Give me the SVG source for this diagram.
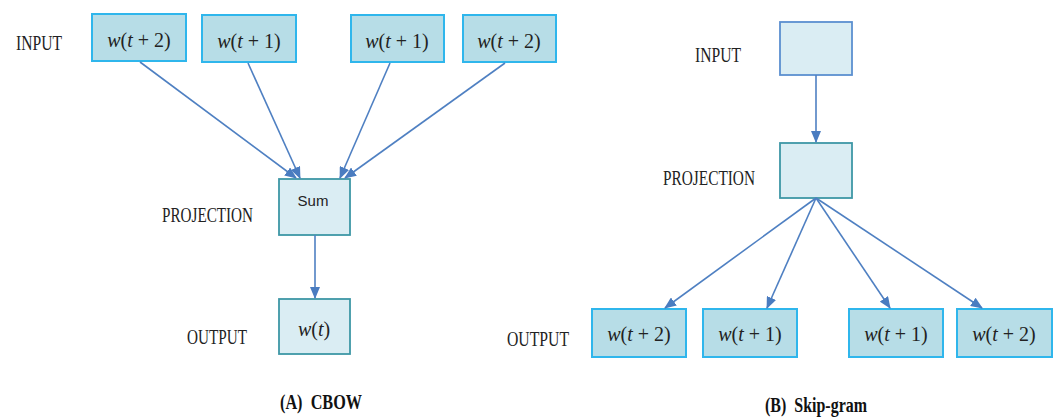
<svg xmlns="http://www.w3.org/2000/svg" width="1059" height="417" viewBox="0 0 1059 417">
  <style>
    .lbl { font-family: "Liberation Serif", "DejaVu Serif", serif; font-size: 22px; fill: #222; }
    .cap { font-family: "Liberation Serif", "DejaVu Serif", serif; font-size: 20px; font-weight: bold; fill: #111; }
    .math { font-family: "Liberation Serif", "DejaVu Serif", serif; font-size: 20px; fill: #222; }
    .it { font-style: italic; }
    .word { fill: #b7dde7; stroke: #2fb6ec; stroke-width: 2; }
    .hid { fill: #daedf3; stroke: #3e97a6; stroke-width: 1.8; }
    .hidb { fill: #daedf3; stroke: #5b8fd0; stroke-width: 1.8; }
    .sum { font-family: "Liberation Sans", Arial, sans-serif; font-size: 15px; fill: #222; }
    .edge { stroke: #4f80c2; stroke-width: 1.6; fill: none; marker-end: url(#arr); }
  </style>
  <defs>
    <marker id="arr" markerUnits="userSpaceOnUse" markerWidth="12" markerHeight="10" refX="11" refY="5" orient="auto">
      <path d="M0,0 L12,5 L0,10 Z" fill="#4a7cc0"/>
    </marker>
  </defs>

  <rect width="1059" height="417" fill="#ffffff"/>

  <!-- CBOW -->
  <text class="lbl" x="16" y="50" textLength="46" lengthAdjust="spacingAndGlyphs">INPUT</text>
  <text class="lbl" x="162" y="222" textLength="91" lengthAdjust="spacingAndGlyphs">PROJECTION</text>
  <text class="lbl" x="187" y="344" textLength="60" lengthAdjust="spacingAndGlyphs">OUTPUT</text>

  <g id="cbow-in1">
    <rect class="word" x="92" y="14" width="94" height="47"/>
    <text class="math" x="139" y="47" text-anchor="middle"><tspan class="it">w</tspan>(<tspan class="it">t</tspan> + 2)</text>
  </g>
  <g id="cbow-in2">
    <rect class="word" x="202" y="15" width="94" height="47"/>
    <text class="math" x="249" y="48" text-anchor="middle"><tspan class="it">w</tspan>(<tspan class="it">t</tspan> + 1)</text>
  </g>
  <g id="cbow-in3">
    <rect class="word" x="351" y="15" width="93" height="47"/>
    <text class="math" x="397" y="48" text-anchor="middle"><tspan class="it">w</tspan>(<tspan class="it">t</tspan> + 1)</text>
  </g>
  <g id="cbow-in4">
    <rect class="word" x="463" y="15" width="93" height="47"/>
    <text class="math" x="509" y="48" text-anchor="middle"><tspan class="it">w</tspan>(<tspan class="it">t</tspan> + 2)</text>
  </g>
  <g id="cbow-sum">
    <rect class="hid" x="279" y="179" width="71" height="56"/>
    <text class="sum" x="313" y="206" text-anchor="middle">Sum</text>
  </g>
  <g id="cbow-out">
    <rect class="hid" x="279" y="299" width="71" height="55"/>
    <text class="math" x="314" y="336" text-anchor="middle"><tspan class="it">w</tspan>(<tspan class="it">t</tspan>)</text>
  </g>

  <text class="cap" x="280" y="409" xml:space="preserve" textLength="82" lengthAdjust="spacingAndGlyphs">(A)  CBOW</text>

  <!-- Skip-gram -->
  <text class="lbl" x="695" y="62" textLength="46" lengthAdjust="spacingAndGlyphs">INPUT</text>
  <text class="lbl" x="663" y="185" textLength="92" lengthAdjust="spacingAndGlyphs">PROJECTION</text>
  <text class="lbl" x="507" y="346" textLength="62" lengthAdjust="spacingAndGlyphs">OUTPUT</text>

  <g id="sg-in">
    <rect class="hidb" x="780" y="22" width="72" height="53"/>
  </g>
  <g id="sg-proj">
    <rect class="hid" x="780" y="143" width="72" height="55"/>
  </g>
  <g id="sg-out1">
    <rect class="word" x="592" y="309" width="94" height="48"/>
    <text class="math" x="639" y="341" text-anchor="middle"><tspan class="it">w</tspan>(<tspan class="it">t</tspan> + 2)</text>
  </g>
  <g id="sg-out2">
    <rect class="word" x="703" y="309" width="94" height="48"/>
    <text class="math" x="750" y="341" text-anchor="middle"><tspan class="it">w</tspan>(<tspan class="it">t</tspan> + 1)</text>
  </g>
  <g id="sg-out3">
    <rect class="word" x="849" y="309" width="94" height="48"/>
    <text class="math" x="896" y="341" text-anchor="middle"><tspan class="it">w</tspan>(<tspan class="it">t</tspan> + 1)</text>
  </g>
  <g id="sg-out4">
    <rect class="word" x="957" y="309" width="95" height="48"/>
    <text class="math" x="1004" y="341" text-anchor="middle"><tspan class="it">w</tspan>(<tspan class="it">t</tspan> + 2)</text>
  </g>

  <text class="cap" x="765" y="412" xml:space="preserve" textLength="102" lengthAdjust="spacingAndGlyphs">(B)  Skip-gram</text>

  <!-- connectors -->
  <g id="connectors">
    <line class="edge" x1="140" y1="62" x2="296" y2="178"/>
    <line class="edge" x1="248" y1="63" x2="300" y2="178"/>
    <line class="edge" x1="390" y1="63" x2="340" y2="178"/>
    <line class="edge" x1="505" y1="63" x2="345" y2="178"/>
    <line class="edge" x1="315" y1="235" x2="315" y2="298"/>
    <line class="edge" x1="816" y1="75" x2="816" y2="142"/>
    <line class="edge" x1="816" y1="198" x2="665" y2="308"/>
    <line class="edge" x1="816" y1="198" x2="767" y2="308"/>
    <line class="edge" x1="816" y1="198" x2="890" y2="308"/>
    <line class="edge" x1="816" y1="198" x2="982" y2="308"/>
  </g>
</svg>
